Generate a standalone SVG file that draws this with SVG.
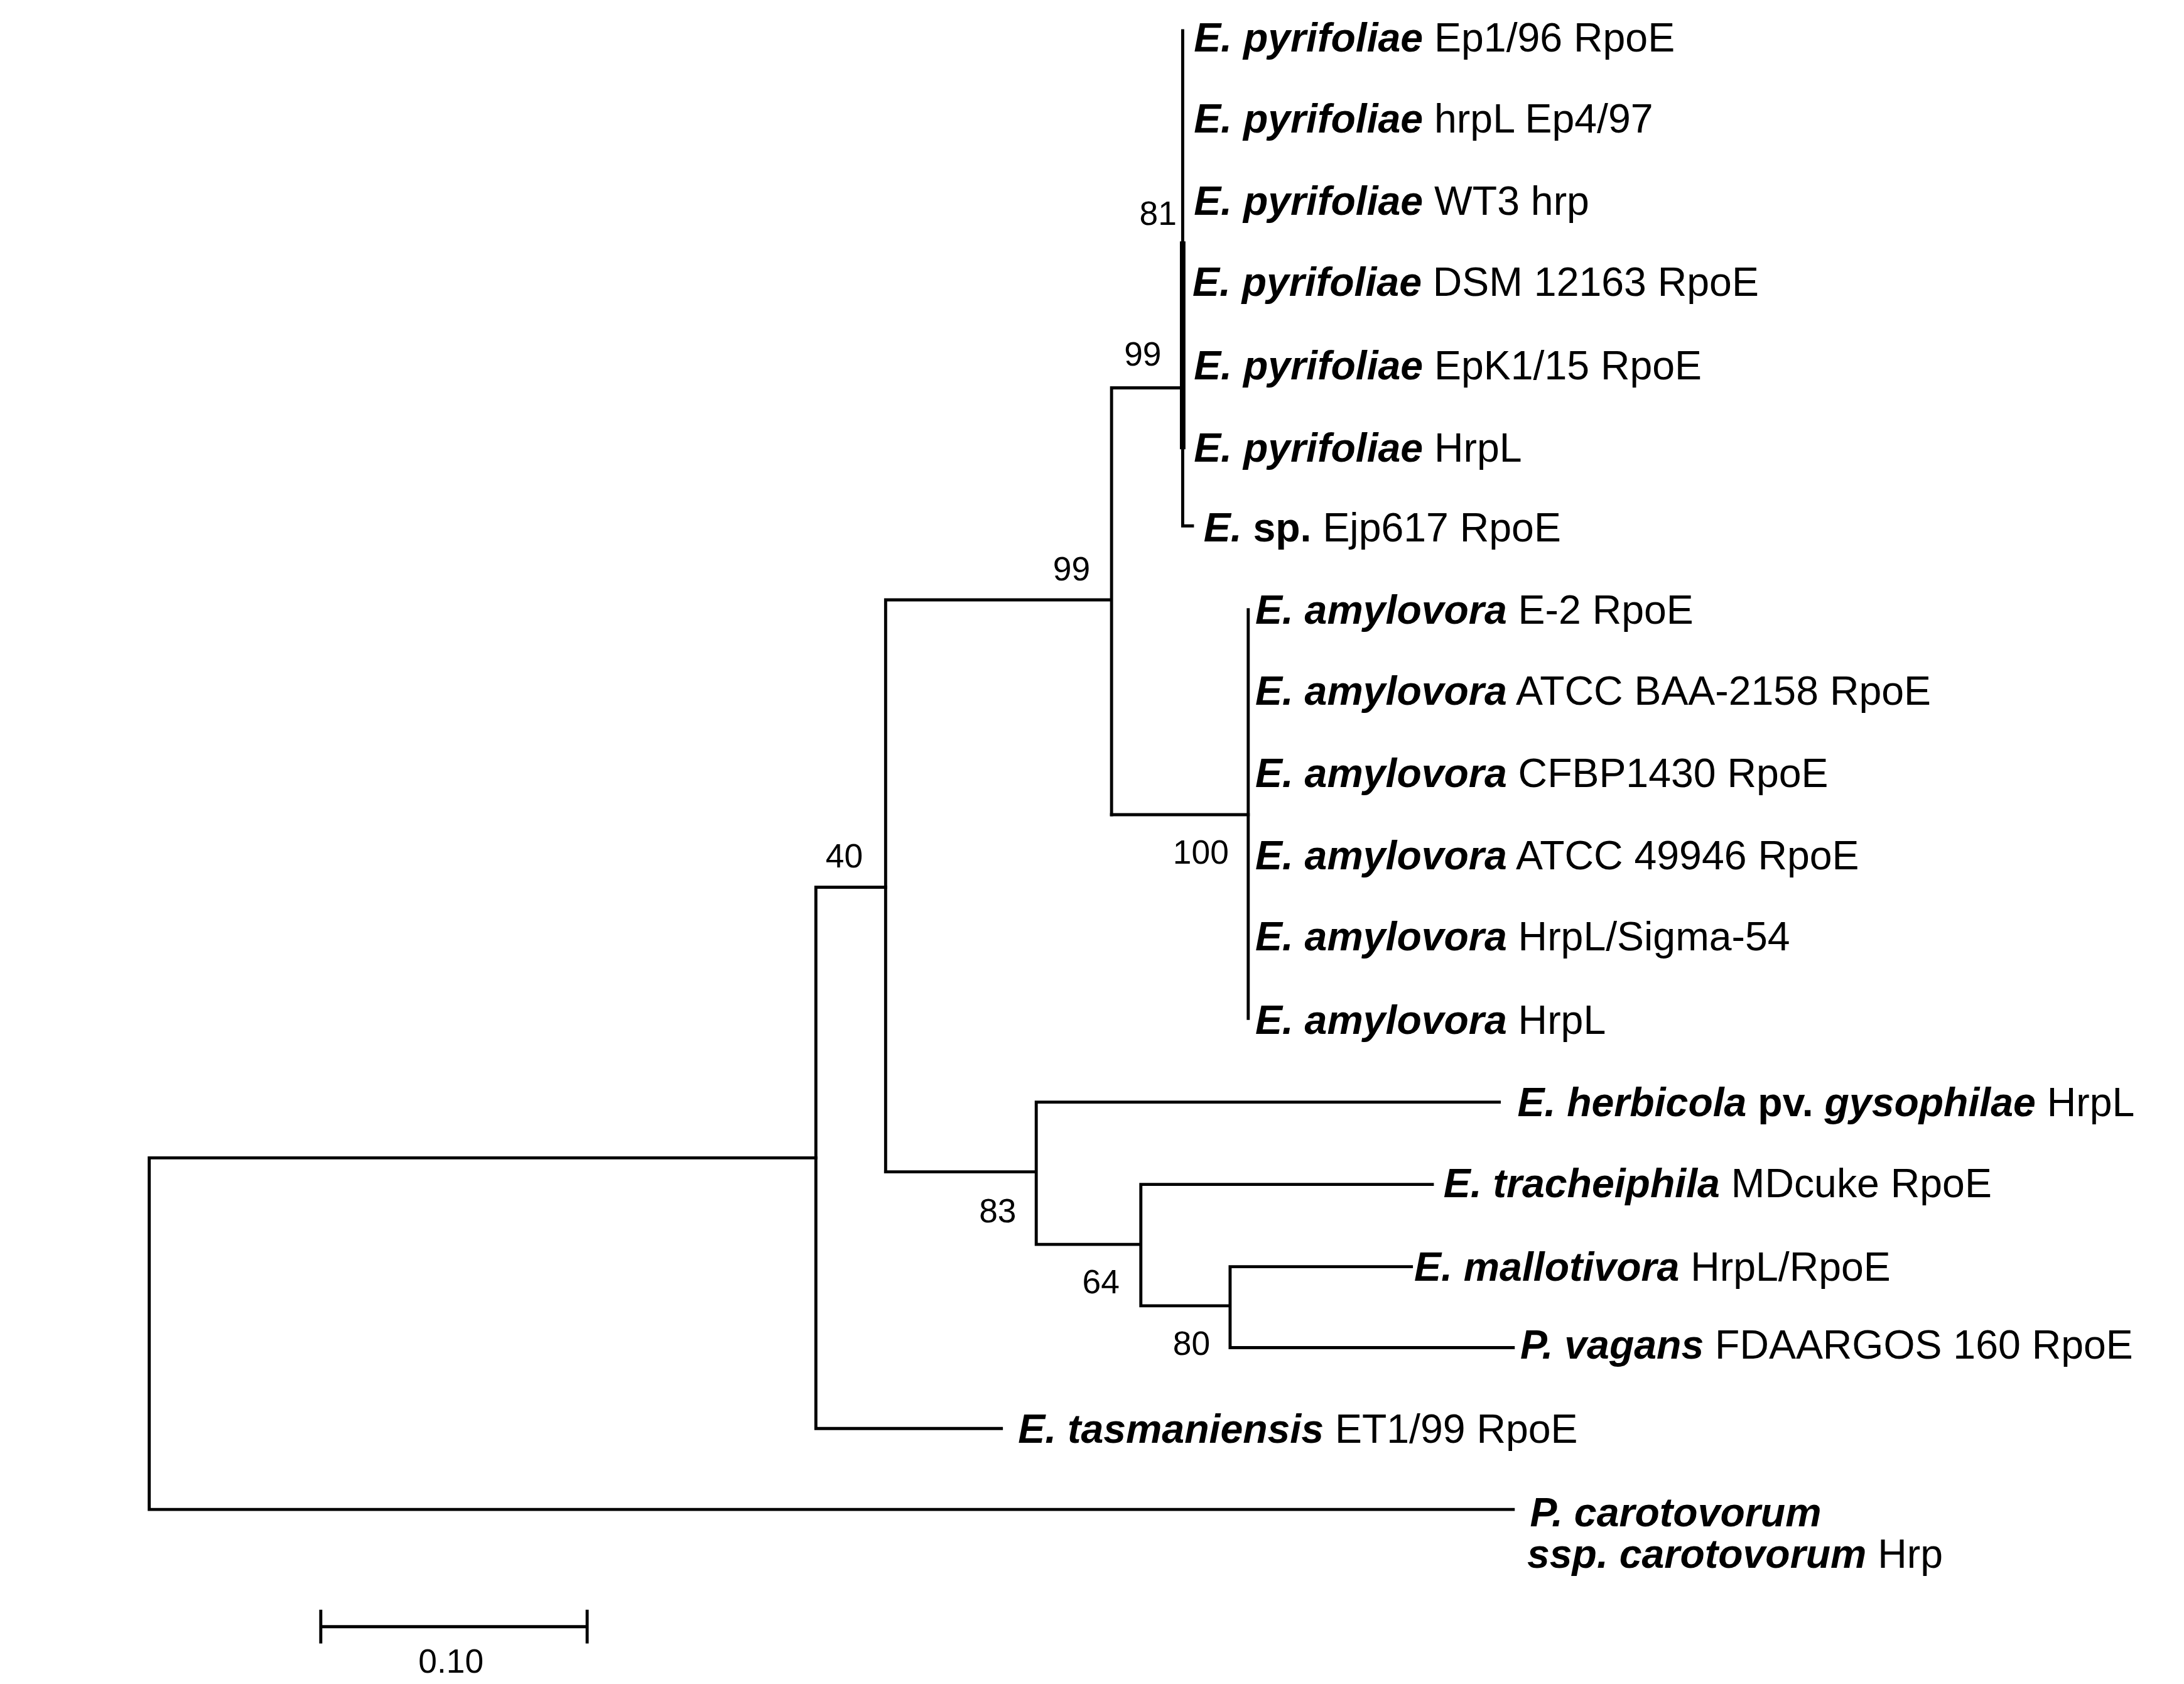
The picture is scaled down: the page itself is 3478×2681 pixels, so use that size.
<svg xmlns="http://www.w3.org/2000/svg" width="3478" height="2681" viewBox="0 0 3478 2681">
<style>
.b{fill:none;stroke:#000;stroke-width:2.2;stroke-linecap:square}
.t{font-family:"Liberation Sans",Arial,sans-serif;font-size:29px;fill:#000}
.s{font-weight:bold;font-style:italic}
.bo{font-weight:bold}
.n{font-family:"Liberation Sans",Arial,sans-serif;font-size:24px;fill:#000}
</style>
<rect width="3478" height="2681" fill="#fff"/>
<g transform="scale(2.221)">
<g id="connectors">
<path class="b" d="M107 830V1082M107 830H585M107 1082H1085"/>
<path class="b" d="M585 636V1024M585 1024H718M585 636H635"/>
<path class="b" d="M635 430V840M635 430H797M797 278V584M797 278H848"/>
<path class="b" d="M848 22V377H855M797 584H895"/>
<path class="b" style="stroke-width:4" d="M848 175V320"/>
<path class="b" d="M895 437V730"/>
<path class="b" d="M635 840H743M743 790V892M743 790H1075M743 892H818M818 849V936M818 849H1027M818 936H882M882 908V966M882 908H1012M882 966H1085"/>
<path class="b" d="M230 1166H421M230 1155V1177M421 1155V1177"/>
</g>
<g id="bootstrap">
<text class="n" x="817" y="161">81</text>
<text class="n" x="806" y="262">99</text>
<text class="n" x="755" y="416">99</text>
<text class="n" x="592" y="622">40</text>
<text class="n" x="841" y="619">100</text>
<text class="n" x="702" y="876">83</text>
<text class="n" x="776" y="927">64</text>
<text class="n" x="841" y="971">80</text>
<text class="n" x="300" y="1199">0.10</text>
</g>
<g id="tips">
<text id="t1" class="t" x="856" y="37"><tspan class="s">E. pyrifoliae</tspan> Ep1/96 RpoE</text>
<text id="t2" class="t" x="856" y="95"><tspan class="s">E. pyrifoliae</tspan> hrpL Ep4/97</text>
<text id="t3" class="t" x="856" y="154"><tspan class="s">E. pyrifoliae</tspan> WT3 hrp</text>
<text id="t4" class="t" x="855" y="212"><tspan class="s">E. pyrifoliae</tspan> DSM 12163 RpoE</text>
<text id="t5" class="t" x="856" y="272"><tspan class="s">E. pyrifoliae</tspan> EpK1/15 RpoE</text>
<text id="t6" class="t" x="856" y="331"><tspan class="s">E. pyrifoliae</tspan> HrpL</text>
<text id="t7" class="t" x="863" y="388"><tspan class="s">E.</tspan><tspan class="bo"> sp.</tspan>  Ejp617 RpoE</text>
<text id="t8" class="t" x="900" y="447"><tspan class="s">E. amylovora</tspan> E-2 RpoE</text>
<text id="t9" class="t" x="900" y="505"><tspan class="s">E. amylovora</tspan> ATCC BAA-2158 RpoE</text>
<text id="t10" class="t" x="900" y="564"><tspan class="s">E. amylovora</tspan> CFBP1430 RpoE</text>
<text id="t11" class="t" x="900" y="623"><tspan class="s">E. amylovora</tspan> ATCC 49946 RpoE</text>
<text id="t12" class="t" x="900" y="681"><tspan class="s">E. amylovora</tspan> HrpL/Sigma-54</text>
<text id="t13" class="t" x="900" y="741"><tspan class="s">E. amylovora</tspan> HrpL</text>
<text id="t14" class="t" x="1088" y="800"><tspan class="s">E. herbicola</tspan><tspan class="bo"> pv.</tspan><tspan class="s"> gysophilae</tspan>  HrpL</text>
<text id="t15" class="t" x="1035" y="858"><tspan class="s">E. tracheiphila</tspan> MDcuke RpoE</text>
<text id="t16" class="t" x="1014" y="918"><tspan class="s">E. mallotivora</tspan> HrpL/RpoE</text>
<text id="t17" class="t" x="1090" y="974"><tspan class="s">P. vagans</tspan> FDAARGOS 160 RpoE</text>
<text id="t18" class="t" x="730" y="1034"><tspan class="s">E. tasmaniensis</tspan> ET1/99 RpoE</text>
<text id="t19" class="t" x="1097" y="1094"><tspan class="s">P. carotovorum</tspan></text>
<text id="t20" class="t" x="1095" y="1124"><tspan class="s">ssp. carotovorum</tspan> Hrp</text>
</g>
</g>
</svg>
